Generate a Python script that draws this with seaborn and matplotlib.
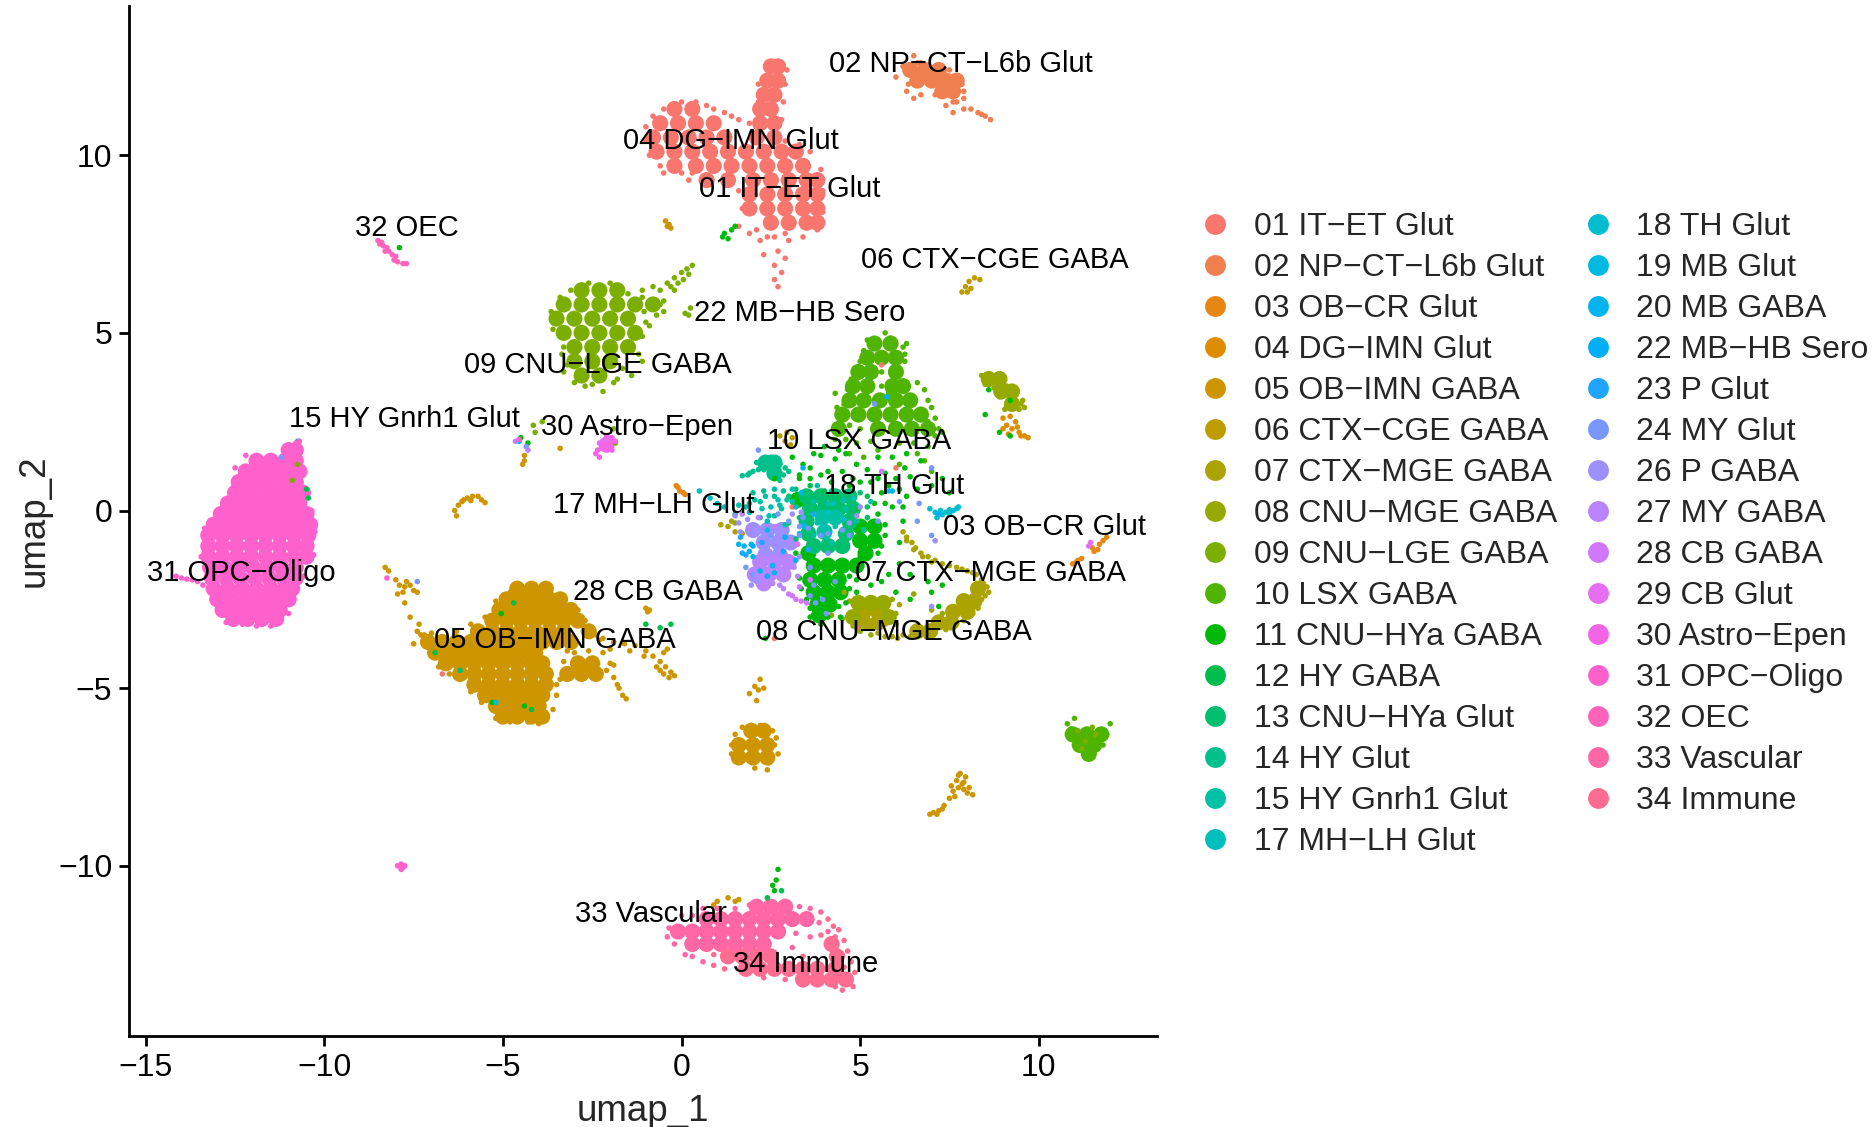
import pandas as pd
import matplotlib
matplotlib.use("Agg")
import matplotlib.pyplot as plt
import seaborn as sns

### -------------------- ###
###  Data (a reduced sample of the cells)
### -------------------- ###
# *_fill : (y, [x, x, ...]) rows through the dense part of a cluster
# *_dots : (x, y) single cells on the edges and in the sparse parts
clusters = ["01 IT−ET Glut", "02 NP−CT−L6b Glut", "03 OB−CR Glut", "04 DG−IMN Glut",
            "05 OB−IMN GABA", "06 CTX−CGE GABA", "07 CTX−MGE GABA", "08 CNU−MGE GABA",
            "09 CNU−LGE GABA", "10 LSX GABA", "11 CNU−HYa GABA", "12 HY GABA",
            "13 CNU−HYa Glut", "14 HY Glut", "15 HY Gnrh1 Glut", "17 MH−LH Glut",
            "18 TH Glut", "19 MB Glut", "20 MB GABA", "22 MB−HB Sero", "23 P Glut",
            "24 MY Glut", "26 P GABA", "27 MY GABA", "28 CB GABA", "29 CB Glut",
            "30 Astro−Epen", "31 OPC−Oligo", "32 OEC", "33 Vascular", "34 Immune"]
colors = ["#F8766D", "#F07F4F", "#E68613", "#DE8C00", "#CD9600", "#BE9C00", "#ABA300",
          "#96A900", "#7CAE00", "#4FB400", "#00BA0B", "#00BE4B", "#00BF6F", "#00C08C",
          "#00C0A5", "#00BFBC", "#00BDD0", "#00B9E3", "#00B4EF", "#00AEFA", "#1FA5FF",
          "#7799FF", "#9E8FFF", "#BA83FF", "#D177FF", "#E56FF0", "#F365E6", "#FF61CC",
          "#FF63BC", "#FF67A4", "#FF6C91"]

it_et_fill = [(12.5, [2.5, 2.7]), (12.1, [2.4, 2.7]), (11.7, [2.3, 2.6]), (11.3, [-0.2, 0.3, 2.2, 2.5]),
              (10.9, [-0.6, -0.1, 0.4, 0.9, 2.2, 2.6]), (10.5, [-0.8, -0.3, 0.2, 0.7, 1.2, 2.1, 2.6]),
              (10.1, [-0.7, -0.2, 0.3, 0.8, 1.3, 1.8, 2.3, 2.8, 3.2]), (9.7, [-0.2, 0.4, 0.9, 1.4, 1.9, 2.4, 2.9, 3.4]),
              (9.3, [0.7, 1.3, 2.0, 2.5, 3.0, 3.5, 3.8]), (8.9, [1.9, 2.4, 2.9, 3.4, 3.8]),
              (8.5, [1.9, 2.4, 2.9, 3.4, 3.8]), (8.1, [2.5, 3.0, 3.5, 3.8])]
it_et_dots = [(1.6, 11.0), (1.9, 10.9), (1.2, 11.2), (0.7, 11.4), (-1.0, 10.4), (-0.9, 10.0), (-0.5, 9.5),
              (0.2, 9.3), (1.6, 9.0), (1.7, 8.5), (1.6, 8.0), (1.9, 7.8), (2.2, 7.6), (2.6, 7.7), (3.0, 7.6),
              (3.4, 7.7), (2.7, 7.3), (2.9, 7.1), (2.6, 6.9), (2.8, 6.7), (2.6, 6.5), (2.7, 6.3), (2.3, 7.2),
              (5.6, 4.1), (6.0, 1.2), (3.1, 0.1), (2.6, -3.6), (4.9, -3.3), (-6.7, -4.6),
              (-1.0, 10.8), (-0.8, 11.1), (-0.5, 11.3), (0.0, 11.5), (0.4, 11.5), (0.9, 11.3), (1.4, 11.1), (3.9, 9.6),
              (3.95, 9.0), (3.95, 8.4), (3.8, 7.9), (3.6, 10.1), (3.3, 10.3), (2.9, 10.4), (2.1, 7.9), (2.4, 7.7),
              (2.9, 7.8), (-0.6, 9.7), (0.0, 9.5), (0.3, 9.5), (2.15, 12.0), (2.95, 12.4), (2.9, 12.0), (2.85, 11.5),
              (2.8, 11.0), (2.15, 11.5)]
np_ct_fill = [(12.4, [6.4, 6.8, 7.2]), (12.1, [6.6, 7.0, 7.4, 7.7]), (11.8, [7.3, 7.6])]
np_ct_dots = [(6.0, 12.2), (6.2, 12.5), (6.5, 12.8), (6.7, 12.6), (6.3, 11.8), (6.5, 11.6), (6.7, 11.7),
              (7.7, 11.5), (7.4, 11.4), (7.6, 11.2), (7.9, 11.3), (8.1, 11.3), (8.3, 11.2), (8.5, 11.1),
              (8.65, 11.0), (8.4, 11.15), (7.9, 11.6), (7.1, 11.7), (6.35, 12.0), (6.6, 12.6), (7.1, 12.45),
              (7.5, 12.4), (7.85, 12.0), (7.9, 11.8), (7.6, 11.5)]
ob_cr_dots = [(11.9, -0.75), (11.8, -0.85), (11.7, -0.95), (11.65, -1.1), (11.55, -1.15), (11.5, -1.05),
              (11.2, -1.35), (11.05, -1.45), (10.95, -1.5), (11.1, -1.4), (-0.1, 0.65), (-0.05, 0.55), (0.05, 0.5),
              (-0.15, 0.7), (0.1, 0.45)]
dg_imn_dots = [(9.0, 2.6), (9.2, 2.65), (9.1, 2.4), (9.35, 2.5), (9.25, 2.3), (9.45, 2.2), (9.6, 2.1),
               (9.7, 2.05), (9.5, 2.1), (9.0, 2.3), (9.15, 2.15), (9.4, 2.35)]
ob_imn_fill = [(-2.2, [-4.6, -4.2, -3.8]), (-2.5, [-4.9, -4.5, -4.1, -3.7, -3.4]),
               (-2.8, [-5.1, -4.7, -4.3, -3.9, -3.5, -3.1]), (-3.1, [-5.3, -4.9, -4.5, -4.1, -3.7, -3.3, -2.9]),
               (-3.4, [-5.7, -5.3, -4.9, -4.5, -4.1, -3.7, -3.3, -2.6]),
               (-3.7, [-7.1, -6.7, -6.3, -5.9, -5.5, -5.1, -4.7, -4.3, -3.9, -3.5, -3.1]),
               (-4.0, [-6.9, -6.5, -6.1, -5.7, -5.3, -4.9, -4.5, -4.1]),
               (-4.3, [-6.6, -6.2, -5.8, -5.4, -5.0, -4.6, -4.2, -3.9, -2.9, -2.5]),
               (-4.6, [-6.2, -5.8, -5.4, -5.0, -4.6, -4.2, -3.8, -3.2, -2.8, -2.4]),
               (-4.9, [-5.8, -5.4, -5.0, -4.6, -4.2, -3.8]), (-5.2, [-5.5, -5.1, -4.7, -4.3, -3.9]),
               (-5.5, [-5.2, -4.8, -4.4, -4.0]), (-5.8, [-5.0, -4.6, -4.2, -3.9]),
               (-6.2, [1.95, 2.3]), (-6.6, [1.6, 2.0, 2.4]), (-6.95, [1.6, 2.0, 2.4])]
ob_imn_dots = [(-8.3, -1.6), (-8.2, -1.7), (-8.0, -1.95), (-7.9, -2.1), (-7.7, -2.0), (-7.6, -2.1), (-7.8, -2.3),
               (-7.5, -2.25), (-7.4, -2.3), (-7.95, -2.35), (-7.75, -2.15), (-7.75, -2.6), (-7.6, -3.0), (-7.35, -3.2),
               (-7.4, -3.4), (-7.5, -3.75), (-7.3, -3.5), (-7.0, -4.1), (-6.8, -4.4), (-6.5, -4.6), (-5.9, -5.1),
               (-5.6, -5.4), (-5.2, -5.85), (-4.8, -5.95), (-4.3, -5.95), (-3.9, -5.7), (-3.8, -5.2), (-3.7, -4.5),
               (-2.7, -3.1), (-2.9, -3.2), (-2.4, -3.5), (-2.2, -3.6), (-1.9, -3.7), (-1.6, -3.75), (-1.3, -3.8),
               (-1.0, -3.95), (-0.8, -4.1), (-0.6, -4.25), (-0.45, -4.4), (-0.3, -4.55), (-0.2, -4.65), (-0.5, -4.0),
               (-0.4, -3.9), (-0.6, -4.5), (-2.1, -4.5), (-1.9, -4.7), (-1.75, -5.0), (-1.65, -5.2), (-1.55, -5.3),
               (-1.8, -4.9), (-6.35, 0.0), (-6.3, -0.15), (-6.25, 0.15), (-6.15, 0.25), (-6.0, 0.35), (-5.85, 0.4),
               (-5.7, 0.4), (-5.6, 0.3), (-5.5, 0.22), (-5.9, 0.28), (-6.1, 0.3), (-1.0, -2.75), (-0.95, -2.85),
               (-0.9, -2.8), (-0.45, 8.15), (-0.35, 8.05), (-0.3, 7.95), (-0.4, 8.0), (2.05, -4.95), (2.2, -4.75),
               (1.9, -5.15), (2.15, -5.05), (2.3, -5.0), (2.1, -5.35), (2.05, -7.25), (2.4, -7.3), (2.45, -7.1),
               (1.4, -6.85), (1.4, -6.6), (2.6, -6.6), (2.7, -6.85), (2.2, -6.05), (1.95, -6.05), (7.8, -7.4),
               (7.95, -7.5), (7.85, -7.7), (7.7, -7.6), (8.05, -7.8), (8.15, -8.0), (7.9, -7.85), (7.6, -7.9),
               (7.05, -8.5), (7.2, -8.45), (7.35, -8.3), (6.95, -8.55), (7.5, -8.1), (1.0, -11.0), (1.3, -10.9),
               (1.5, -11.0), (1.6, -10.95), (0.9, -11.1), (-4.4, 1.55), (-4.45, 1.3), (-4.4, 1.4), (-3.4, 1.75),
               (-4.8, -2.3), (-5.2, -2.55), (-5.5, -3.0), (-5.9, -3.2), (-6.3, -3.4), (-3.1, -2.7), (-2.9, -2.8),
               (-2.55, -3.3), (-2.3, -3.65), (-2.0, -3.9), (-2.2, -4.0), (-2.6, -3.95), (-3.0, -4.0), (-3.2, -3.95),
               (-3.3, -4.25), (-3.4, -4.75), (-3.5, -4.9), (-2.0, -4.3), (-1.9, -4.35), (-7.2, -3.5), (-7.0, -3.45),
               (-3.5, -5.2), (-3.6, -5.6), (-4.0, -6.0), (-1.45, -3.95), (-1.05, -4.1), (-0.7, -4.4), (-0.5, -4.6),
               (-0.35, -4.7), (1.5, -6.3), (1.7, -6.1), (2.55, -6.2), (2.65, -6.4), (7.75, -7.45), (7.9, -7.65),
               (8.0, -7.95), (7.75, -7.8), (7.55, -7.75), (7.65, -8.05), (7.3, -8.4), (7.15, -8.55)]
ctx_cge_dots = [(7.85, 6.15), (7.95, 6.3), (8.05, 6.45), (8.2, 6.55), (8.35, 6.5), (8.1, 6.25), (8.0, 6.15),
                (2.75, 2.1), (2.9, 1.95), (3.05, 1.85), (3.1, 2.05), (2.95, 2.2)]
ctx_mge_fill = [(-2.2, [8.3]), (-2.55, [7.9, 8.2]), (-2.85, [5.1, 5.5, 7.6, 8.0]), (-3.15, [5.1, 5.5, 7.2, 7.55]),
                (-3.4, [6.6, 6.95])]
ctx_mge_dots = [(6.2, -0.6), (6.3, -0.75), (6.45, -0.9), (6.55, -1.05), (6.7, -1.2), (6.9, -1.3), (7.1, -1.4),
                (7.7, -1.6), (8.0, -1.7), (8.25, -1.8), (8.4, -1.95), (8.55, -2.15), (8.4, -2.5), (1.1, -0.4),
                (1.3, -0.45), (1.5, -0.6), (1.4, -0.3), (1.7, -0.65), (6.2, -3.5), (5.9, -3.55), (5.5, -3.45),
                (6.3, -0.85), (6.5, -1.1), (6.75, -1.3), (7.0, -1.45), (7.3, -1.5), (7.5, -1.55), (7.85, -1.65),
                (8.15, -1.75), (8.45, -2.05), (8.6, -2.3), (8.5, -2.4), (8.3, -2.75), (8.15, -2.9), (7.9, -3.1),
                (7.7, -3.2), (7.4, -3.35), (7.1, -3.45), (6.85, -3.55), (6.4, -3.55), (6.05, -3.6), (5.7, -3.55),
                (5.3, -3.3), (5.7, -3.2), (6.0, -3.2), (6.1, -2.65)]
cnu_mge_fill = [(-2.6, [4.95, 5.3, 5.65]), (-3.0, [4.8, 5.8]), (3.7, [8.6, 8.9]), (3.35, [8.95, 9.25]), (3.0, [9.25])]
cnu_mge_dots = [(4.2, -2.95), (4.5, -3.05), (4.8, -3.25), (5.0, -3.4), (5.3, -3.5), (4.7, -2.55), (4.55, -2.3),
                (5.9, -2.5), (6.0, -2.9), (8.4, 3.8), (8.5, 3.7), (8.7, 3.6), (9.55, 3.1), (9.6, 2.9), (9.45, 2.85),
                (9.1, 2.95), (8.9, 3.2), (8.75, 3.45), (7.0, -2.8), (7.3, -2.9), (6.5, -2.35), (1.5, -0.35),
                (8.5, 3.55), (9.1, 3.5), (9.4, 3.35), (9.5, 3.0), (8.8, 3.7), (9.05, 2.85)]
cnu_lge_fill = [(6.2, [-2.8, -2.3, -1.8]), (5.8, [-3.3, -2.8, -2.3, -1.8, -1.3, -0.8]),
                (5.4, [-3.5, -3.0, -2.5, -2.0, -1.5]), (5.0, [-3.3, -2.8, -2.3, -1.8, -1.3]),
                (4.6, [-3.0, -2.5, -2.0, -1.5]), (4.2, [-3.0, -2.5, -2.0]), (3.8, [-2.8, -2.3])]
cnu_lge_dots = [(-1.1, 6.2), (-0.8, 6.3), (-0.6, 6.2), (-0.4, 6.4), (-0.2, 6.55), (0.0, 6.7), (0.15, 6.8),
                (0.3, 6.9), (-0.6, 5.8), (-0.5, 5.6), (-0.7, 5.5), (0.1, 5.55), (0.25, 5.7), (0.2, 5.5), (-0.2, 6.2),
                (-0.9, 5.2), (-1.1, 4.9), (-1.2, 4.4), (-1.1, 4.2), (-3.6, 5.1), (-3.35, 4.4), (-3.3, 3.9), (-3.0, 3.6),
                (-2.5, 3.55), (-1.9, 3.6), (-2.2, 3.35), (-4.15, 2.4), (-4.1, 2.2), (-3.9, 2.5), (-1.85, 1.9),
                (-1.9, 2.3), (-10.75, 1.3), (-10.9, 0.85), (11.1, -6.2), (11.6, -6.3), (11.2, -6.7), (11.5, -6.1), (11.3, -6.5),
                (-3.65, 5.6), (-3.6, 5.3), (-3.4, 6.0), (-3.1, 6.2), (-2.6, 6.4), (-2.0, 6.4), (-1.5, 6.1), (-1.05, 5.6),
                (-1.0, 5.3), (-1.2, 5.1), (-1.1, 6.0), (-0.9, 5.9), (-0.7, 5.9), (-0.5, 5.9), (-3.3, 4.6), (-3.2, 4.1),
                (-1.65, 4.0), (-1.4, 3.8), (-1.8, 3.7), (-2.7, 3.5), (-3.4, 4.9), (-0.3, 6.3), (0.05, 6.5), (-0.1, 6.4), (0.2, 6.65)]
lsx_fill = [(4.7, [5.4, 5.85]), (4.3, [5.2, 5.6, 6.0]), (3.9, [4.95, 5.3, 6.0]), (3.5, [4.8, 5.2, 5.9, 6.2]),
            (3.1, [4.7, 5.1, 5.55, 6.0, 6.4]), (2.7, [4.5, 4.95, 5.4, 5.85, 6.3, 6.7]),
            (2.3, [4.4, 5.5, 6.0, 6.45, 6.9]), (-6.3, [10.95, 11.35, 11.75]), (-6.6, [11.15, 11.55]), (-6.85, [11.4])]
lsx_dots = [(4.3, 2.0), (4.6, 2.0), (4.9, 1.9), (5.3, 1.95), (6.1, 1.9), (6.5, 1.9), (6.9, 1.8), (7.1, 2.1),
            (5.7, 5.0), (6.2, 4.6), (6.25, 4.2), (6.3, 3.6), (6.6, 3.6), (6.9, 3.1), (7.1, 2.6), (7.2, 2.3),
            (5.0, 4.2), (4.75, 3.7), (4.3, 3.3), (4.4, 2.6), (4.3, 2.4), (5.6, 3.9), (5.8, 3.3), (6.8, 1.4), (7.0, 1.1),
            (10.8, -6.0), (11.0, -5.85), (12.0, -6.0), (11.9, -6.3), (10.9, -6.15),
            (5.2, 4.8), (5.1, 4.5), (6.3, 4.7), (6.25, 4.4), (4.85, 4.0), (4.65, 3.4), (4.55, 3.0), (4.35, 2.9), (5.6, 3.5),
            (6.45, 3.2), (6.8, 3.4), (7.0, 2.9), (7.3, 2.2), (6.9, 2.5), (6.4, 2.2), (5.0, 2.3), (4.7, 2.4), (5.4, 2.6),
            (6.6, 1.6), (5.5, 1.7), (5.1, 1.5), (4.7, 1.6), (6.1, 1.3), (5.85, 4.85), (11.0, -6.6), (11.5, -6.9),
            (11.3, -6.95), (11.8, -6.6), (11.15, -6.4)]
hya_gaba_fill = [(0.3, [3.25]), (-0.45, [5.0, 5.4]), (-0.85, [5.0, 5.4]), (-1.2, [3.55, 5.15]), (-1.55, [3.7, 4.1, 4.5, 4.9]),
                 (-1.95, [3.6, 4.0, 4.4]), (-2.3, [3.7, 4.1, 4.45]), (-2.65, [3.8, 4.15]), (-2.95, [3.85])]
hya_gaba_dots = [(3.1, 1.5), (3.4, 1.3), (3.6, 1.2), (3.9, 1.55), (4.1, 1.1), (4.3, 1.45), (4.6, 1.6), (4.9, 1.3),
                 (5.2, 1.15), (5.5, 1.5), (5.7, 1.05), (6.0, 0.9), (6.25, 1.2), (6.1, 0.6), (6.3, 0.4), (6.2, 0.1),
                 (5.7, 0.2), (5.5, -0.1), (5.7, -0.4), (4.8, 0.9), (3.3, 0.9), (2.6, 0.9), (7.5, 0.5), (6.1, -1.5),
                 (6.4, -1.8), (5.8, -1.8), (5.3, -2.1), (5.6, -2.0), (6.4, -2.5), (7.0, -2.3), (7.3, -2.1), (6.9, -2.0),
                 (7.2, -2.7), (6.0, -2.3), (8.6, 3.4), (8.5, 2.7), (9.2, 3.1), (8.9, 2.2), (9.2, 2.1), (1.2, 7.8), (1.4, 7.9),
                 (1.15, 7.7), (1.3, 7.65), (1.5, 8.0), (2.65, -10.4), (2.7, -10.1), (2.6, -10.7), (2.55, -10.55), (-4.5, 2.05),
                 (-4.3, 1.9), (-7.9, 7.4), (-5.05, -2.9), (-5.3, -5.4), (-4.4, -5.5), (2.35, -3.6),
                 (3.3, 1.0), (3.6, 0.9), (3.9, 1.0), (4.2, 0.8), (4.5, 1.1), (4.7, 0.7), (5.0, 0.8), (5.3, 0.8), (5.5, 0.9),
                 (5.8, 0.7), (5.6, 0.5), (5.4, 0.2), (5.9, 0.1), (5.7, -0.7), (5.6, -1.0), (5.5, -1.2), (5.2, -1.35),
                 (5.0, -1.3), (4.7, -1.85), (4.9, -1.95), (4.7, -2.2), (4.9, -2.3), (4.6, -2.6), (4.4, -2.7), (4.45, -3.0),
                 (4.1, -3.0), (3.6, -2.75), (3.5, -2.5), (3.35, -2.2), (3.3, -1.9), (3.2, -1.2), (3.6, -3.0), (3.9, -3.2),
                 (6.2, -0.3), (6.1, -0.9), (6.6, 0.6), (6.7, 1.4), (6.4, 0.95), (4.0, 1.8), (3.7, 1.6), (4.4, 1.7), (5.9, 1.5),
                 (6.3, 1.6), (7.0, 0.7), (7.3, 0.9)]
hy_gaba_dots = [(3.6, 0.7), (4.0, 0.55), (5.2, 0.4), (4.9, 0.0), (3.0, -0.35), (-6.9, -4.0), (-4.7, -2.6), (-4.2, -5.6),
                (-1.0, -3.2), (-0.3, -3.2), (-0.6, -3.3), (2.8, -10.7), (2.4, -10.9), (-10.5, 0.6), (-10.45, 0.35)]
hya_glut_fill = [(0.4, [3.5, 3.9, 4.3, 4.7]), (0.05, [3.6, 4.0, 4.4, 4.8]), (-0.3, [3.5, 4.7]),
                 (-0.65, [3.55, 4.6]), (-1.0, [3.7, 4.1, 4.5])]
hya_glut_dots = [(3.2, 0.6), (3.0, 0.4), (5.0, 0.5), (5.2, 0.1), (5.2, -0.2), (3.2, -0.8), (3.3, -0.2), (-6.2, -4.5)]
hy_glut_fill = [(1.35, [2.35, 2.6]), (1.05, [2.6])]
hy_glut_dots = [(1.7, 0.98), (1.85, 1.0), (2.0, 1.1), (2.15, 1.15), (2.3, 1.15), (2.5, 1.5), (2.85, 1.0), (2.75, 0.85),
                (2.0, 0.5), (2.3, 0.55), (2.6, 0.4), (2.85, 0.55), (1.9, 0.2), (1.9, 1.05), (2.2, 1.3), (2.45, 1.2),
                (2.75, 1.3), (2.9, 1.2), (3.0, 1.1), (2.1, 1.35)]
gnrh_fill = [(-0.2, [3.95, 4.3]), (-0.6, [4.0])]
gnrh_dots = [(2.2, 0.25), (2.5, 0.1), (2.8, 0.05), (3.1, 0.25), (1.9, -0.05), (2.2, -0.2), (2.6, -0.15), (2.9, -0.4),
             (5.1, -0.55), (4.9, -0.3), (5.3, 0.25), (3.7, -0.7), (4.2, -0.9), (3.4, -0.35), (4.55, 0.3), (3.8, 0.7),
             (4.1, 0.2), (4.3, -0.1), (3.8, -0.35), (4.05, -0.25), (4.3, -0.45), (4.5, -0.2), (4.0, -0.75), (4.2, 0.55),
             (3.7, 0.25), (4.6, 0.05), (1.8, 0.1), (2.05, 0.3), (2.35, 0.4), (2.6, 0.6), (2.95, 0.3), (3.1, 0.6),
             (2.45, -0.15), (2.75, 0.15), (2.25, 0.05), (1.6, 0.15), (1.5, -0.1)]
mh_lh_dots = [(0.5, 0.55), (0.8, 0.35), (1.0, 0.2), (1.2, 0.1), (2.4, -0.3), (2.7, 0.3), (3.2, 0.1), (4.55, -0.25),
              (3.3, -0.65), (4.8, 0.35), (-10.75, 1.95), (4.1, -0.05), (4.25, 0.2), (3.95, -0.45)]
th_glut_dots = [(6.95, 0.05), (7.1, -0.05), (7.25, 0.0), (7.4, -0.05), (7.5, 0.02), (7.6, 0.0), (7.7, 0.05), (7.75, 0.1),
                (7.3, -0.12), (7.5, -0.1), (7.15, -0.2), (-5.2, -5.4)]
mb_glut_dots = [(5.8, 0.55), (2.4, -0.55), (3.45, -0.45), (-4.55, 1.95)]
mb_gaba_dots = [(1.6, -0.95), (1.75, -1.0), (1.9, -1.15), (1.7, -1.2), (2.0, -1.3), (1.95, -0.95), (2.2, -1.7), (2.6, -1.75),
                (2.55, -1.55), (3.35, 0.5), (5.9, 0.55)]
mb_hb_dots = [(2.0, -1.0), (2.4, -1.85), (3.2, -1.4), (3.4, 1.2), (7.2, -0.1), (2.9, -0.75), (5.75, 3.2)]
p_glut_dots = [(1.65, -0.75), (1.8, -1.25), (2.25, -0.9), (2.85, -1.15), (3.55, -1.1), (3.7, -0.1)]
my_glut_dots = [(1.8, -1.6), (2.0, -1.8), (2.5, -0.7), (3.4, -0.2), (3.3, -0.45), (3.55, -0.5), (3.7, -2.1), (3.6, -2.4),
                (3.75, -2.6), (4.1, -0.65), (4.5, -0.55), (6.1, 0.25), (6.65, 0.2), (6.6, -0.3), (7.0, -0.7), (2.7, -0.1),
                (2.15, 1.7), (5.4, 3.0), (7.0, 1.2), (-4.35, 1.8), (-11.2, 1.5), (-7.4, -2.0), (3.0, -0.3), (3.3, -0.7),
                (3.9, -0.7), (4.1, -1.2), (4.3, -2.0), (4.05, -2.9), (3.95, -2.5), (3.6, -1.6), (5.5, -0.3), (4.7, -0.7)]
p_gaba_fill = [(-0.55, [2.0, 2.4, 2.8]), (-0.9, [2.3, 2.7, 3.05]), (-1.25, [2.35, 2.75])]
p_gaba_dots = [(1.5, -0.15), (1.6, -0.35), (1.85, -0.25), (1.65, -0.6), (3.1, -0.1), (3.35, -0.05), (3.3, -1.3), (4.7, -0.35),
               (4.9, -0.15), (5.0, 0.1), (2.0, -1.95), (1.95, -2.1), (2.1, -2.0), (7.0, -2.7), (7.1, -0.85)]
my_gaba_fill = [(-1.45, [2.2, 2.6, 3.0]), (-1.8, [2.05, 2.45, 2.85]), (-2.05, [2.3])]
my_gaba_dots = [(1.9, -0.5), (2.15, -0.2), (1.7, -0.1), (2.6, -0.45), (3.05, -0.85), (3.15, -1.6), (3.25, -1.85), (2.55, -2.05),
                (2.75, -2.1), (2.85, -2.2), (-4.65, 1.95), (-4.3, 1.7)]
cb_gaba_dots = [(3.1, -2.4), (3.2, -2.5), (3.35, -2.55), (3.5, -2.6), (3.0, -2.35), (3.6, -1.95), (5.6, 1.1), (3.3, -2.15)]
cb_glut_dots = [(-2.3, 1.9), (-2.15, 2.0), (3.25, -0.95), (11.4, -1.0), (11.45, -0.9)]
astro_fill = [(1.85, [-2.1])]
astro_dots = [(-2.35, 1.7), (-2.4, 1.6), (-2.25, 1.75), (-1.95, 2.05), (-1.85, 1.95), (-2.3, 1.5), (-2.2, 1.85), (-2.0, 1.8),
              (-2.1, 2.1), (-1.95, 1.7)]
oligo_fill = [(1.7, [-11.0, -10.8]), (1.4, [-11.9, -11.5, -11.1, -10.8]), (1.1, [-12.2, -11.8, -11.4, -11.0, -10.7]),
              (0.8, [-12.4, -12.0, -11.6, -11.2, -10.8]), (0.5, [-12.5, -12.1, -11.7, -11.3, -10.9, -10.6]),
              (0.2, [-12.7, -12.3, -11.9, -11.5, -11.1, -10.7]),
              (-0.1, [-12.9, -12.5, -12.1, -11.7, -11.3, -10.9, -10.5]),
              (-0.4, [-13.1, -12.7, -12.3, -11.9, -11.5, -11.1, -10.7, -10.4]),
              (-0.7, [-13.25, -12.85, -12.45, -12.05, -11.65, -11.25, -10.85, -10.45]),
              (-1.0, [-13.25, -12.85, -12.45, -12.05, -11.65, -11.25, -10.85, -10.5]),
              (-1.3, [-13.25, -12.85, -12.45, -12.05, -11.65, -11.25, -10.85, -10.5]),
              (-1.6, [-13.2, -12.8, -12.4, -12.0, -11.6, -11.2, -10.8]),
              (-1.9, [-13.15, -12.75, -12.35, -11.95, -11.55, -11.15, -10.8]),
              (-2.2, [-13.1, -12.7, -12.3, -11.9, -11.5, -11.1, -10.9]),
              (-2.5, [-13.0, -12.6, -12.2, -11.8, -11.4, -11.0]),
              (-2.8, [-12.85, -12.45, -12.05, -11.65, -11.25]), (-3.05, [-12.55, -12.15, -11.75, -11.35])]
oligo_dots = [(-10.7, 1.95), (-10.8, 1.9), (-12.2, 1.55), (-12.5, 1.2), (-12.85, 0.05), (-13.35, -0.5), (-13.45, -1.3),
              (-13.3, -1.85), (-12.75, -3.15), (-12.3, -3.2), (-11.9, -3.25), (-11.5, -3.25), (-11.0, -2.9), (-10.6, -1.85),
              (-10.3, -1.25), (-10.27, -0.6), (-10.35, 0.0), (-14.15, -1.85), (-14.0, -1.9), (-13.85, -1.93), (-13.7, -1.95),
              (-13.55, -2.0), (-13.4, -2.1), (-7.95, -10.0), (-7.85, -9.95), (-7.8, -10.05), (-7.85, -10.1), (-7.75, -10.0),
              (-8.25, -1.9), (-4.55, 2.0)]
oec_dots = [(-8.5, 7.6), (-8.4, 7.55), (-8.35, 7.45), (-8.25, 7.4), (-8.2, 7.3), (-8.1, 7.2), (-8.0, 7.15), (-7.95, 7.0),
            (-7.8, 6.95), (-8.45, 7.5), (-8.3, 7.3), (-8.05, 7.05), (-7.7, 6.95)]
vascular_fill = [(-11.15, [2.1, 2.5, 2.9]), (-11.5, [0.7, 1.1, 1.5, 1.9, 2.3, 2.7, 3.1, 3.5]), (-11.85, [-0.1, 0.3, 0.7, 1.1, 1.5, 1.9, 2.3, 2.7]),
                 (-12.2, [0.3, 0.7, 1.1, 1.5, 1.9, 2.3])]
vascular_dots = [(-0.35, -11.75), (-0.4, -12.0), (-0.2, -12.2), (0.1, -12.5), (0.3, -12.55), (0.6, -12.7), (3.6, -11.2), (3.9, -11.3),
                 (3.2, -11.9), (3.6, -12.0), (3.1, -12.3), (0.0, -11.4), (0.3, -11.4), (0.6, -11.2), (1.0, -11.2), (1.5, -11.2),
                 (1.9, -11.1), (3.3, -11.15), (3.4, -11.5), (3.85, -11.6), (4.1, -11.85)]
immune_fill = [(-12.2, [4.2]), (-12.55, [1.3, 1.7, 2.1, 2.5, 4.35]), (-12.9, [1.8, 2.2, 2.6, 3.0, 3.4, 3.8, 4.3]), (-13.2, [3.4, 3.8, 4.2, 4.6])]
immune_dots = [(4.25, -11.7), (4.4, -11.8), (4.55, -12.1), (4.65, -12.4), (4.75, -12.7), (4.85, -13.0), (4.8, -13.4), (4.5, -13.5),
               (4.3, -13.4), (0.9, -12.8), (1.2, -12.9), (4.1, -11.5), (3.9, -11.95), (3.4, -12.55), (2.9, -13.2), (2.3, -13.15),
               (4.3, -12.0), (4.5, -12.5), (4.55, -12.85), (4.7, -13.1), (0.9, -12.5), (3.7, -12.9)]

fill_layers = [("01 IT−ET Glut", it_et_fill), ("02 NP−CT−L6b Glut", np_ct_fill), ("05 OB−IMN GABA", ob_imn_fill),
               ("07 CTX−MGE GABA", ctx_mge_fill), ("08 CNU−MGE GABA", cnu_mge_fill), ("09 CNU−LGE GABA", cnu_lge_fill),
               ("10 LSX GABA", lsx_fill), ("11 CNU−HYa GABA", hya_gaba_fill), ("13 CNU−HYa Glut", hya_glut_fill),
               ("14 HY Glut", hy_glut_fill), ("15 HY Gnrh1 Glut", gnrh_fill), ("26 P GABA", p_gaba_fill),
               ("27 MY GABA", my_gaba_fill), ("30 Astro−Epen", astro_fill), ("31 OPC−Oligo", oligo_fill),
               ("33 Vascular", vascular_fill), ("34 Immune", immune_fill)]
dot_layers = [("01 IT−ET Glut", it_et_dots), ("02 NP−CT−L6b Glut", np_ct_dots), ("03 OB−CR Glut", ob_cr_dots),
              ("04 DG−IMN Glut", dg_imn_dots), ("05 OB−IMN GABA", ob_imn_dots), ("06 CTX−CGE GABA", ctx_cge_dots),
              ("07 CTX−MGE GABA", ctx_mge_dots), ("08 CNU−MGE GABA", cnu_mge_dots), ("09 CNU−LGE GABA", cnu_lge_dots),
              ("10 LSX GABA", lsx_dots), ("11 CNU−HYa GABA", hya_gaba_dots), ("12 HY GABA", hy_gaba_dots),
              ("13 CNU−HYa Glut", hya_glut_dots), ("14 HY Glut", hy_glut_dots), ("15 HY Gnrh1 Glut", gnrh_dots),
              ("17 MH−LH Glut", mh_lh_dots), ("18 TH Glut", th_glut_dots), ("19 MB Glut", mb_glut_dots),
              ("20 MB GABA", mb_gaba_dots), ("22 MB−HB Sero", mb_hb_dots), ("23 P Glut", p_glut_dots),
              ("24 MY Glut", my_glut_dots), ("26 P GABA", p_gaba_dots), ("27 MY GABA", my_gaba_dots),
              ("28 CB GABA", cb_gaba_dots), ("29 CB Glut", cb_glut_dots), ("30 Astro−Epen", astro_dots),
              ("31 OPC−Oligo", oligo_dots), ("32 OEC", oec_dots), ("33 Vascular", vascular_dots), ("34 Immune", immune_dots)]

label_names = ["02 NP−CT−L6b Glut", "04 DG−IMN Glut", "01 IT−ET Glut", "32 OEC", "06 CTX−CGE GABA", "22 MB−HB Sero",
               "09 CNU−LGE GABA", "15 HY Gnrh1 Glut", "30 Astro−Epen", "10 LSX GABA", "18 TH Glut", "17 MH−LH Glut",
               "03 OB−CR Glut", "31 OPC−Oligo", "07 CTX−MGE GABA", "28 CB GABA", "05 OB−IMN GABA", "08 CNU−MGE GABA",
               "33 Vascular", "34 Immune"]
label_x = [7.83, 1.37, 3.04, -7.69, 8.78, 3.31, -2.34, -7.75, -1.24, 4.98, 5.95, -0.77, 10.16, -12.33, 8.66, -0.67,
           -3.54, 5.95, -0.87, 3.48]
label_y = [12.56, 10.41, 9.06, 7.95, 7.05, 5.57, 4.09, 2.58, 2.34, 1.97, 0.69, 0.16, -0.45, -1.76, -1.76, -2.3,
           -3.64, -3.41, -11.37, -12.75]

### -------------------- ###
###  Tables for seaborn
### -------------------- ###
fill_rows = [(name, x, y) for name, rows in fill_layers for y, xs in rows for x in xs]
dot_rows = [(name, x, y) for name, pts in dot_layers for x, y in pts]
fill_df = pd.DataFrame(fill_rows, columns=["cluster", "umap_1", "umap_2"])
dot_df = pd.DataFrame(dot_rows, columns=["cluster", "umap_1", "umap_2"])
palette = dict(zip(clusters, colors))

### -------------------- ###
###  Plot
### -------------------- ###
sns.set_theme(style="ticks")
plt.rcParams["font.family"] = ["Liberation Sans", "DejaVu Sans"]

fig = plt.figure(figsize=(18.72, 11.27), dpi=100)
ax = fig.add_axes([129 / 1872, 1 - 1036 / 1127, (1157 - 129) / 1872, (1036 - 6) / 1127])

sns.scatterplot(data=fill_df, x="umap_1", y="umap_2", hue="cluster", hue_order=clusters, palette=palette,
                s=135, linewidth=0, legend=False, ax=ax)
sns.scatterplot(data=dot_df, x="umap_1", y="umap_2", hue="cluster", hue_order=clusters, palette=palette,
                s=16, linewidth=0, legend="full", ax=ax)

for name, x, y in zip(label_names, label_x, label_y):
    ax.text(x, y, name, ha="center", va="center", fontsize=21, color="black")

ax.set_xlim(-15.47, 13.31)
ax.set_ylim(-14.79, 14.2)
ax.set_xticks([-15, -10, -5, 0, 5, 10])
ax.set_yticks([-10, -5, 0, 5, 10])
ax.tick_params(labelsize=23, width=2, length=7, color="black", labelcolor="black", pad=5)
ax.set_xlabel("umap_1", fontsize=26.5, labelpad=8)
ax.set_ylabel("umap_2", fontsize=26.5, labelpad=5)
sns.despine(ax=ax)
for side in ["left", "bottom"]:
    ax.spines[side].set_linewidth(2)
    ax.spines[side].set_color("black")

sns.move_legend(ax, "upper left", bbox_to_anchor=(1196 / 1872, 1 - 212 / 1127), bbox_transform=fig.transFigure,
                ncol=2, frameon=False, title=None, fontsize=23, labelspacing=0.345, handlelength=1.2,
                handletextpad=0.6, columnspacing=0.68, borderpad=0, borderaxespad=0)
for h in ax.get_legend().legend_handles:
    h.set_markersize(15)

fig.savefig("out.png", dpi=100)
